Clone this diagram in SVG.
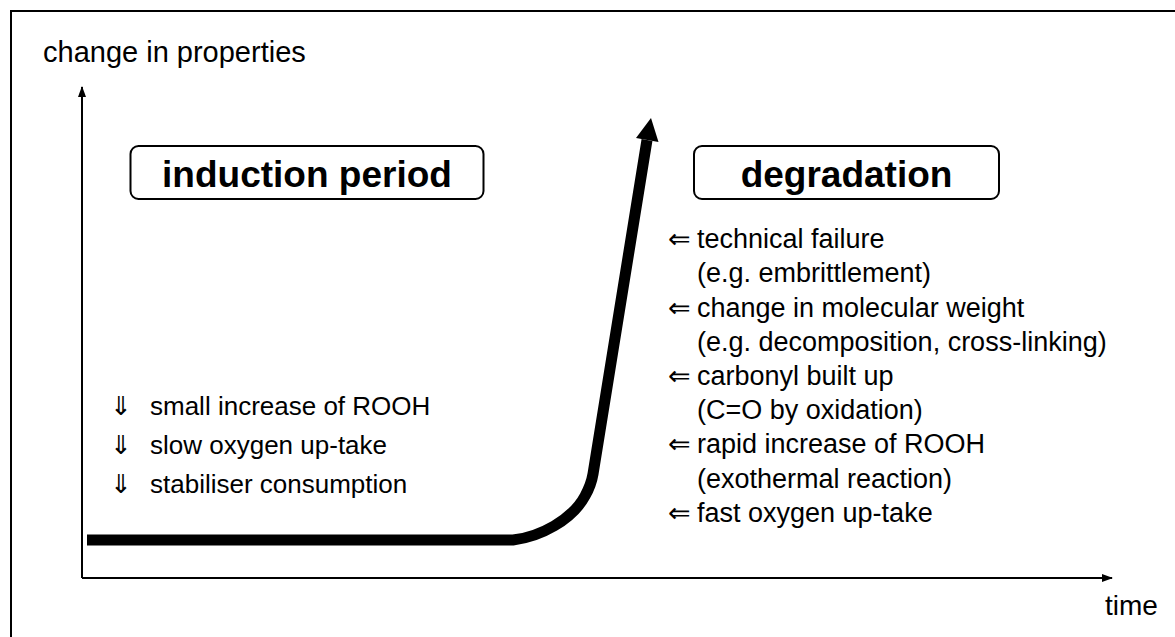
<svg xmlns="http://www.w3.org/2000/svg" width="1175" height="637" viewBox="0 0 1175 637">
<style>
text{font-family:"Liberation Sans",Arial,sans-serif;fill:#000}
.t{font-size:27px}
.l{font-size:26px}
.h{font-size:37px;font-weight:bold;text-anchor:middle}
.box{fill:#fff;stroke:#000;stroke-width:2}
.ax{stroke:#000;stroke-width:2;fill:none}
</style>
<defs>
<marker id="ah" markerWidth="11" markerHeight="10" refX="10" refY="5" orient="auto" markerUnits="userSpaceOnUse">
<path d="M0,1 L11,5 L0,9 Z" fill="#000"/>
</marker>
</defs>
<rect x="11" y="11" width="1180" height="640" fill="#fff" stroke="#000" stroke-width="2"/>
<text x="43" y="62" style="font-size:29px">change in properties</text>
<text x="1105" y="615" style="font-size:28px">time</text>
<g id="connectors">
<line class="ax" x1="82" y1="578" x2="82" y2="87" marker-end="url(#ah)"/>
<line class="ax" x1="82" y1="578" x2="1112" y2="578" marker-end="url(#ah)"/>
<path d="M87,540 H513 C540,537 572,520 585,496 C590,487 592,480 593,474 L647,140" fill="none" stroke="#000" stroke-width="11"/>
<polygon points="651,118 658.5,142 636,138" fill="#000"/>
</g>
<g id="induction">
<rect class="box" x="130.5" y="146" width="353" height="53" rx="8"/>
<text class="h" x="307" y="187">induction period</text>
</g>
<g id="degradation">
<rect class="box" x="694" y="146" width="305" height="53" rx="8"/>
<text class="h" x="846.5" y="187">degradation</text>
</g>
<g id="induction-list">
<text class="l" x="110" y="415">⇓</text><text class="l" x="150" y="415">small increase of ROOH</text>
<text class="l" x="110" y="454">⇓</text><text class="l" x="150" y="454">slow oxygen up-take</text>
<text class="l" x="110" y="493">⇓</text><text class="l" x="150" y="493">stabiliser consumption</text>
</g>
<g id="degradation-list">
<text class="t" x="668" y="248">⇐</text><text class="t" x="697" y="248">technical failure</text>
<text class="t" x="697" y="282">(e.g. embrittlement)</text>
<text class="t" x="668" y="317">⇐</text><text class="t" x="697" y="317">change in molecular weight</text>
<text class="t" x="697" y="351">(e.g. decomposition, cross-linking)</text>
<text class="t" x="668" y="385">⇐</text><text class="t" x="697" y="385">carbonyl built up</text>
<text class="t" x="697" y="419">(C=O by oxidation)</text>
<text class="t" x="668" y="453">⇐</text><text class="t" x="697" y="453">rapid increase of ROOH</text>
<text class="t" x="697" y="488">(exothermal reaction)</text>
<text class="t" x="668" y="522">⇐</text><text class="t" x="697" y="522">fast oxygen up-take</text>
</g>
</svg>
